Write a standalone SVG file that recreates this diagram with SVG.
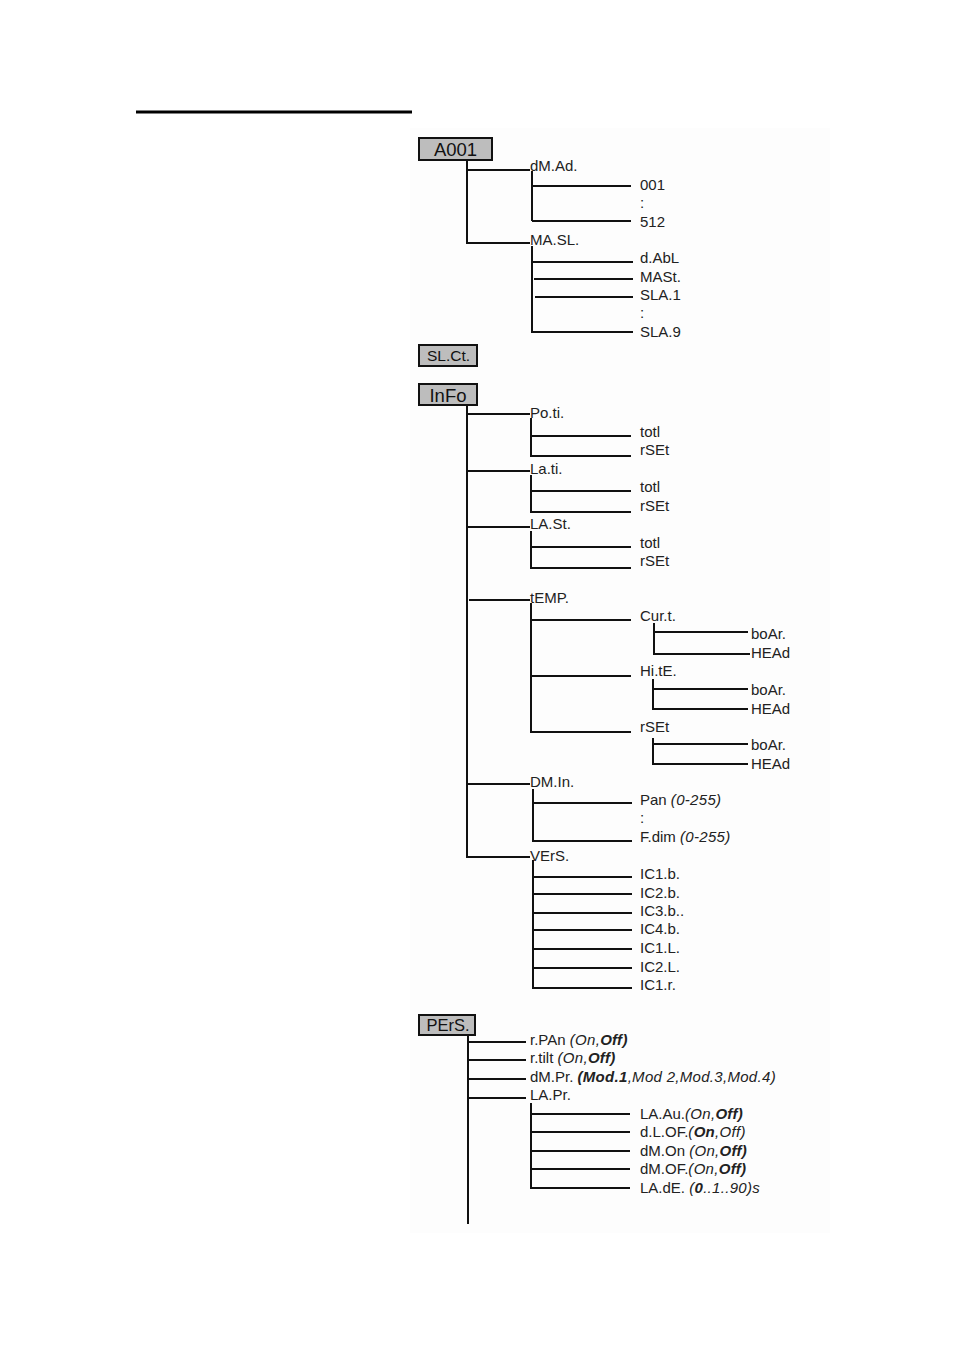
<svg xmlns="http://www.w3.org/2000/svg" width="954" height="1350" viewBox="0 0 954 1350">
<style>
.t{font-family:"Liberation Sans",Arial,sans-serif;font-size:15px;fill:#222}
.i{font-style:italic;letter-spacing:0.3px}
.b{font-weight:bold}
.bx{fill:#bdbdbd;stroke:#111;stroke-width:2}
.bt{font-family:"Liberation Sans",Arial,sans-serif;fill:#111;text-anchor:middle}
.c path{fill:none;stroke:#111;stroke-width:2}
</style>
<rect x="0" y="0" width="954" height="1350" fill="#ffffff"/>
<rect x="410" y="128" width="420" height="1105" fill="#fdfdfd"/>
<path d="M136 112 H412" stroke="#000" stroke-width="3"/>

<g class="c" id="connectors">
<path d="M467 160 V244 M467 170 H530 M467 243 H530"/>
<path d="M532 171 V221 M532 186 H631 M532 221 H631"/>
<path d="M532 246 V333 M532 262 H633 M534 279 H633 M535 297 H633 M532 332 H633"/>
<path d="M467 405 V858 M467 414 H530 M467 471 H530 M467 527 H530 M469 600 H530 M467 784 H530 M467 857 H530"/>
<path d="M531 418 V457 M531 436 H631 M531 456 H631"/>
<path d="M531 475 V513 M531 491 H631 M531 512 H631"/>
<path d="M531 531 V569 M531 547 H631 M531 568 H631"/>
<path d="M531 603 V733 M531 620 H631 M531 676 H631 M531 732 H631"/>
<path d="M654 623 V655 M654 632 H748 M654 654 H750"/>
<path d="M653 679 V710 M653 689 H748 M653 709 H748"/>
<path d="M653 738 V765 M653 744 H748 M653 764 H748"/>
<path d="M533 789 V842 M533 803 H632 M533 841 H632"/>
<path d="M533 860 V989 M533 877 H632 M533 894 H632 M533 913 H632 M533 930 H632 M533 949 H632 M533 968 H632 M533 988 H632"/>
<path d="M468 1035 V1224 M468 1042 H526 M468 1060 H526 M468 1079 H526 M468 1098 H526"/>
<path d="M531 1103 V1189 M531 1114 H630 M531 1132 H630 M531 1151 H630 M531 1169 H630 M531 1188 H630"/>
</g>

<g id="A001"><rect class="bx" x="419" y="138" width="73" height="22"/><text class="bt" x="455.5" y="155.5" font-size="18.5">A001</text></g>
<g id="dMAd"><text class="t" x="530" y="171">dM.Ad.</text></g>
<g id="dMAd-001"><text class="t" x="640" y="190">001</text></g>
<g id="dMAd-dots"><text class="t" x="640" y="208">:</text></g>
<g id="dMAd-512"><text class="t" x="640" y="227">512</text></g>
<g id="MASL"><text class="t" x="530" y="245">MA.SL.</text></g>
<g id="dAbL"><text class="t" x="640" y="263">d.AbL</text></g>
<g id="MASt"><text class="t" x="640" y="282">MASt.</text></g>
<g id="SLA1"><text class="t" x="640" y="300">SLA.1</text></g>
<g id="SLA-dots"><text class="t" x="640" y="318">:</text></g>
<g id="SLA9"><text class="t" x="640" y="337">SLA.9</text></g>

<g id="SLCt"><rect class="bx" x="419" y="345" width="58" height="21"/><text class="bt" x="448.5" y="361" font-size="15.5">SL.Ct.</text></g>

<g id="InFo"><rect class="bx" x="419" y="384" width="58" height="21"/><text class="bt" x="448" y="401.5" font-size="18.5">InFo</text></g>
<g id="Poti"><text class="t" x="530" y="418">Po.ti.</text></g>
<g id="Poti-totl"><text class="t" x="640" y="437">totl</text></g>
<g id="Poti-rSEt"><text class="t" x="640" y="455">rSEt</text></g>
<g id="Lati"><text class="t" x="530" y="474">La.ti.</text></g>
<g id="Lati-totl"><text class="t" x="640" y="492">totl</text></g>
<g id="Lati-rSEt"><text class="t" x="640" y="511">rSEt</text></g>
<g id="LASt"><text class="t" x="530" y="529">LA.St.</text></g>
<g id="LASt-totl"><text class="t" x="640" y="548">totl</text></g>
<g id="LASt-rSEt"><text class="t" x="640" y="566">rSEt</text></g>
<g id="tEMP"><text class="t" x="530" y="603">tEMP.</text></g>
<g id="Curt"><text class="t" x="640" y="621">Cur.t.</text></g>
<g id="Curt-boAr"><text class="t" x="751" y="639">boAr.</text></g>
<g id="Curt-HEAd"><text class="t" x="751" y="658">HEAd</text></g>
<g id="HitE"><text class="t" x="640" y="676">Hi.tE.</text></g>
<g id="HitE-boAr"><text class="t" x="751" y="695">boAr.</text></g>
<g id="HitE-HEAd"><text class="t" x="751" y="714">HEAd</text></g>
<g id="rSEt"><text class="t" x="640" y="732">rSEt</text></g>
<g id="rSEt-boAr"><text class="t" x="751" y="750">boAr.</text></g>
<g id="rSEt-HEAd"><text class="t" x="751" y="769">HEAd</text></g>
<g id="DMIn"><text class="t" x="530" y="787">DM.In.</text></g>
<g id="Pan"><text class="t" x="640" y="805">Pan <tspan class="i">(0-255)</tspan></text></g>
<g id="DMIn-dots"><text class="t" x="640" y="823">:</text></g>
<g id="Fdim"><text class="t" x="640" y="842">F.dim <tspan class="i">(0-255)</tspan></text></g>
<g id="VErS"><text class="t" x="530" y="861">VErS.</text></g>
<g id="IC1b"><text class="t" x="640" y="879">IC1.b.</text></g>
<g id="IC2b"><text class="t" x="640" y="898">IC2.b.</text></g>
<g id="IC3b"><text class="t" x="640" y="916">IC3.b..</text></g>
<g id="IC4b"><text class="t" x="640" y="934">IC4.b.</text></g>
<g id="IC1L"><text class="t" x="640" y="953">IC1.L.</text></g>
<g id="IC2L"><text class="t" x="640" y="972">IC2.L.</text></g>
<g id="IC1r"><text class="t" x="640" y="990">IC1.r.</text></g>

<g id="PErS"><rect class="bx" x="419" y="1015" width="56" height="20"/><text class="bt" x="448" y="1030.5" font-size="16.5">PErS.</text></g>
<g id="rPAn"><text class="t" x="530" y="1045">r.PAn <tspan class="i">(On,</tspan><tspan class="i b">Off)</tspan></text></g>
<g id="rtilt"><text class="t" x="530" y="1063">r.tilt <tspan class="i">(On,</tspan><tspan class="i b">Off)</tspan></text></g>
<g id="dMPr"><text class="t" x="530" y="1082">dM.Pr. <tspan class="i b">(Mod.1</tspan><tspan class="i">,Mod 2,Mod.3,Mod.4)</tspan></text></g>
<g id="LAPr"><text class="t" x="530" y="1100">LA.Pr.</text></g>
<g id="LAAu"><text class="t" x="640" y="1119">LA.Au.<tspan class="i">(On,</tspan><tspan class="i b">Off)</tspan></text></g>
<g id="dLOF"><text class="t" x="640" y="1137">d.L.OF.<tspan class="i">(</tspan><tspan class="i b">On</tspan><tspan class="i">,Off)</tspan></text></g>
<g id="dMOn"><text class="t" x="640" y="1156">dM.On <tspan class="i">(On,</tspan><tspan class="i b">Off)</tspan></text></g>
<g id="dMOF"><text class="t" x="640" y="1174">dM.OF.<tspan class="i">(On,</tspan><tspan class="i b">Off)</tspan></text></g>
<g id="LAdE"><text class="t" x="640" y="1193">LA.dE. <tspan class="i">(</tspan><tspan class="i b">0</tspan><tspan class="i">..1..90)s</tspan></text></g>
</svg>
